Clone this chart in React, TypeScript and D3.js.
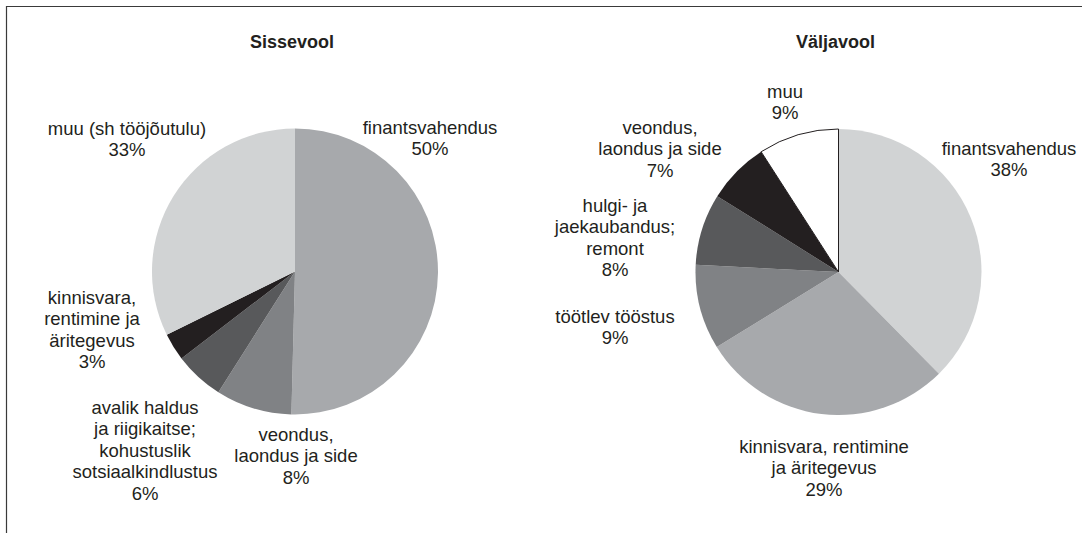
import { useRef, useEffect } from 'react';
import * as d3 from 'd3';

// Sissevool (inflow) shares, clockwise from 12 o'clock
const inflowLabels = [
  ['finantsvahendus', '50%'],
  ['veondus,', 'laondus ja side', '8%'],
  ['avalik haldus', 'ja riigikaitse;', 'kohustuslik', 'sotsiaalkindlustus', '6%'],
  ['kinnisvara,', 'rentimine ja', 'äritegevus', '3%'],
  ['muu (sh tööjõutulu)', '33%'],
];
const inflowValues = [50.4, 8.6, 5.6, 3.1, 32.3];

// Väljavool (outflow) shares, clockwise from 12 o'clock
const outflowLabels = [
  ['finantsvahendus', '38%'],
  ['kinnisvara, rentimine', 'ja äritegevus', '29%'],
  ['töötlev tööstus', '9%'],
  ['hulgi- ja', 'jaekaubandus;', 'remont', '8%'],
  ['veondus,', 'laondus ja side', '7%'],
  ['muu', '9%'],
];
const outflowValues = [37.6, 28.6, 9.6, 8.1, 7.0, 9.1];

const inflowColors = ['#a7a9ac', '#808285', '#58595b', '#231f20', '#d1d3d4'];
const outflowColors = ['#d1d3d4', '#a7a9ac', '#808285', '#58595b', '#231f20', '#ffffff'];

// label anchor (centre x, first baseline)
const inflowLabelPos = [[430, 134], [296, 441], [145, 414], [92, 304], [127, 135]];
const outflowLabelPos = [[1009, 155], [824, 453], [615, 323], [615, 212], [660, 134], [785, 98]];

export default function App() {
  const ref = useRef(null);
  const width = 1092;
  const height = 533;
  const radius = 143;
  const lineHeight = 21.4;
  const textColor = '#231f20';
  const font = '"Liberation Sans", Arial, Helvetica, sans-serif';

  useEffect(() => {
    const svg = d3.select(ref.current);
    svg.selectAll('*').remove();

    // frame: top and left lines only
    svg.append('path')
      .attr('d', `M6.5,${height} L6.5,6.5 L1082,6.5`)
      .attr('fill', 'none')
      .attr('stroke', '#3a3a3a')
      .attr('stroke-width', 1.2);

    const pie = d3.pie<number>().sort(null).value(d => d);
    const arc = d3.arc<d3.PieArcDatum<number>>().innerRadius(0).outerRadius(radius);

    const charts = [
      { title: 'Sissevool', cx: 295, cy: 271.5, values: inflowValues, colors: inflowColors, labels: inflowLabels, pos: inflowLabelPos },
      { title: 'Väljavool', cx: 838.5, cy: 272, values: outflowValues, colors: outflowColors, labels: outflowLabels, pos: outflowLabelPos },
    ];

    charts.forEach(c => {
      svg.append('text')
        .attr('x', c.cx - 3)
        .attr('y', 48)
        .attr('text-anchor', 'middle')
        .attr('font-family', font)
        .attr('font-weight', 'bold')
        .attr('font-size', '18px')
        .attr('fill', textColor)
        .text(c.title);

      const g = svg.append('g').attr('transform', `translate(${c.cx},${c.cy})`);
      g.selectAll('path')
        .data(pie(c.values))
        .join('path')
          .attr('d', arc)
          .attr('fill', (d, i) => c.colors[i])
          .attr('stroke', (d, i) => (c.colors[i] === '#ffffff' ? textColor : 'none'))
          .attr('stroke-width', 1);

      c.labels.forEach((lines, i) => {
        const [lx, ly] = c.pos[i];
        const t = svg.append('text')
          .attr('text-anchor', 'middle')
          .attr('font-family', font)
          .attr('font-size', '18.5px')
          .attr('fill', textColor);
        lines.forEach((s, j) => {
          t.append('tspan').attr('x', lx).attr('y', ly + j * lineHeight).text(s);
        });
      });
    });
  }, []);

  return (
    <svg
      ref={ref}
      width={width}
      height={height}
      style={{ position: 'absolute', left: 0, top: 0, background: '#fff' }}
    />
  );
}
